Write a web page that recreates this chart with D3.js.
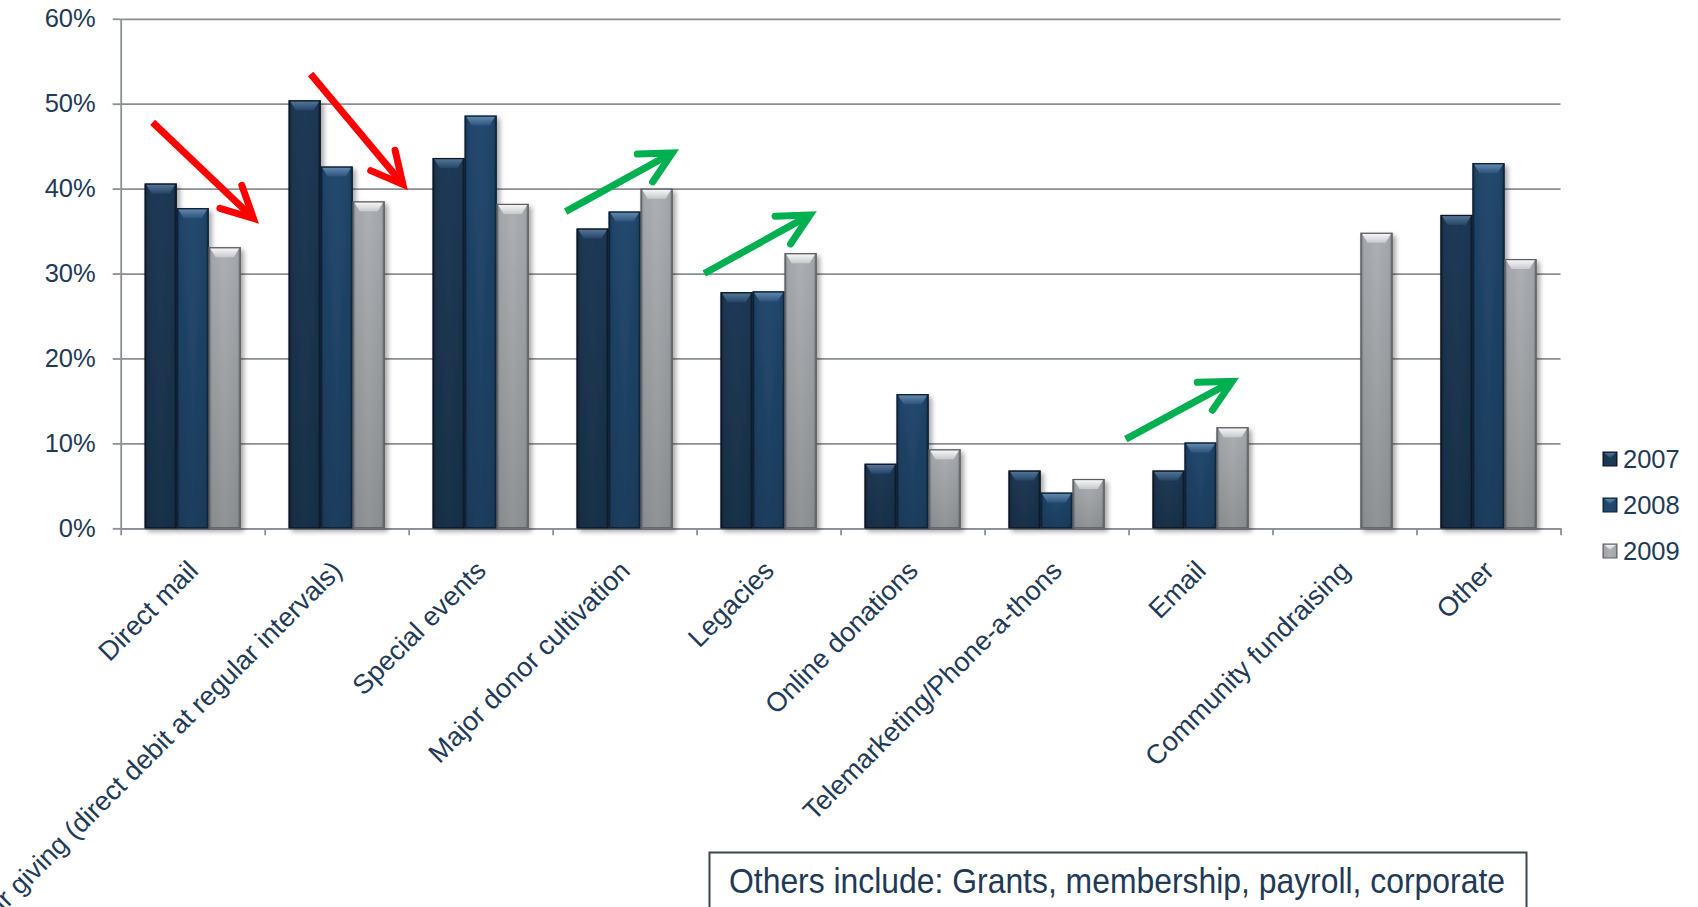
<!DOCTYPE html>
<html>
<head>
<meta charset="utf-8">
<script src="https://cdn.jsdelivr.net/npm/d3@7"></script>
<style>
  html, body { margin: 0; padding: 0; background: #ffffff; overflow: hidden; }
  text { font-family: Arial, "Liberation Sans", sans-serif; fill: #1f3a56; }
</style>
</head>
<body>
<svg id="chart" width="1698" height="907"></svg>
<script>
// ---- data -------------------------------------------------------------
const categories = [
  "Direct mail",
  "Regular giving (direct debit at regular intervals)",
  "Special events",
  "Major donor cultivation",
  "Legacies",
  "Online donations",
  "Telemarketing/Phone-a-thons",
  "Email",
  "Community fundraising",
  "Other"
];
const years = ["2007", "2008", "2009"];
const values2007 = [40.6, 50.4, 43.6, 35.3, 27.8, 7.6, 6.8, 6.8, null, 36.9];
const values2008 = [37.7, 42.6, 48.6, 37.3, 27.9, 15.8, 4.2, 10.1, null, 43.0];
const values2009 = [33.1, 38.5, 38.2, 40.0, 32.4, 9.3, 5.8, 11.9, 34.8, 31.7];
const yTicks = [0, 10, 20, 30, 40, 50, 60];

// trend arrows in data space: [category position, percent]
const trendArrows = [
  { trend: "down", from: [0.222, 47.8], to: [0.922, 36.5] },
  { trend: "down", from: [1.319, 53.5], to: [1.960, 40.5] },
  { trend: "up",   from: [3.090, 37.3], to: [3.831, 44.2] },
  { trend: "up",   from: [4.053, 30.0], to: [4.788, 36.9] },
  { trend: "up",   from: [6.981, 10.5], to: [7.720, 17.3] }
];
const footnote = "Others include: Grants, membership, payroll, corporate";

// ---- layout -----------------------------------------------------------
const svg = d3.select("#chart");
const plotLeft = 120.7, plotRight = 1560.5, plotTop = 18.8, plotBottom = 528.3;
const textColor = "#1f3a56";
const gridColor = "#8b8f93";

const x = d3.scaleBand().domain(categories).range([plotLeft, plotRight]);
const xSeries = d3.scaleBand().domain(years).range([0, x.bandwidth()]).paddingOuter(0.75);
const xPos = d3.scaleLinear().domain([0, categories.length]).range([plotLeft, plotRight]);
const y = d3.scaleLinear().domain([0, 60]).range([plotBottom, plotTop]);

const seriesValues = { "2007": values2007, "2008": values2008, "2009": values2009 };

const palette = {
  "2007": { side: "#0c1c2c", mid: "#1b3652", hi: "#1e3a57", bevelTop: "#5b7b9c", bevelBot: "#25476a", stroke: "#0a1622" },
  "2008": { side: "#112a43", mid: "#1f4468", hi: "#23496f", bevelTop: "#6b8fb3", bevelBot: "#2c5580", stroke: "#0d2033" },
  "2009": { side: "#6c6f73", mid: "#a3a6aa", hi: "#acafb3", bevelTop: "#ffffff", bevelBot: "#c9ccd0", stroke: "#5b5e62" }
};
const arrowColor = { down: "#ff0000", up: "#00b050" };

// ---- defs: gradients and shadow ---------------------------------------
const defs = svg.append("defs");
years.forEach(yr => {
  const p = palette[yr];
  const g = defs.append("linearGradient").attr("id", "body" + yr)
    .attr("x1", "0").attr("x2", "1").attr("y1", "0").attr("y2", "0");
  [[0, p.side], [0.1, p.mid], [0.5, p.hi], [0.9, p.mid], [1, p.side]].forEach(([o, c]) =>
    g.append("stop").attr("offset", o).attr("stop-color", c));
  const b = defs.append("linearGradient").attr("id", "bevel" + yr)
    .attr("x1", "0").attr("x2", "0").attr("y1", "0").attr("y2", "1");
  b.append("stop").attr("offset", 0).attr("stop-color", p.bevelTop);
  b.append("stop").attr("offset", 1).attr("stop-color", p.bevelBot);
});
const shade = defs.append("linearGradient").attr("id", "shade")
  .attr("x1", "0").attr("x2", "0").attr("y1", "0").attr("y2", "1");
shade.append("stop").attr("offset", 0).attr("stop-color", "#000").attr("stop-opacity", 0);
shade.append("stop").attr("offset", 1).attr("stop-color", "#000").attr("stop-opacity", 0.16);

defs.append("filter").attr("id", "shadow")
  .attr("x", "-30%").attr("y", "-10%").attr("width", "170%").attr("height", "130%")
  .append("feDropShadow")
  .attr("dx", 3).attr("dy", 3).attr("stdDeviation", 2.5)
  .attr("flood-color", "#000").attr("flood-opacity", 0.35);

// ---- grid and axes -----------------------------------------------------
svg.append("g")
  .attr("transform", `translate(${plotLeft},0)`)
  .call(d3.axisLeft(y).tickValues(yTicks).tickSize(-(plotRight - plotLeft)).tickFormat(""))
  .call(g => g.select(".domain").remove())
  .call(g => g.selectAll("line").attr("stroke", gridColor).attr("stroke-width", 1.8));

const yAxis = svg.append("g")
  .attr("transform", `translate(${plotLeft},0)`)
  .call(d3.axisLeft(y).tickValues(yTicks).tickSize(8).tickSizeOuter(0).tickPadding(17)
    .tickFormat(d => d + "%"));
yAxis.select(".domain").attr("stroke", gridColor).attr("stroke-width", 1.8);
yAxis.selectAll("line").attr("stroke", gridColor).attr("stroke-width", 1.8);
yAxis.selectAll("text").attr("font-size", 25.5).attr("fill", textColor)
  .style("font-family", "Arial, 'Liberation Sans', sans-serif");

const xAxis = svg.append("g")
  .attr("transform", `translate(0,${plotBottom})`)
  .call(d3.axisBottom(xPos).tickValues(d3.range(categories.length + 1)).tickSize(7)
    .tickSizeOuter(0).tickFormat(""));
xAxis.select(".domain").attr("stroke", gridColor).attr("stroke-width", 1.8);
xAxis.selectAll("line").attr("stroke", gridColor).attr("stroke-width", 1.8);

// ---- bars ------------------------------------------------------------
const barData = [];
categories.forEach((c, i) => years.forEach(yr => {
  const v = seriesValues[yr][i];
  if (v != null) barData.push({ category: c, year: yr, value: v });
}));

const bars = svg.append("g").selectAll("g.bar")
  .data(barData).join("g").attr("class", "bar")
  .attr("filter", "url(#shadow)");

bars.each(function (d) {
  const g = d3.select(this);
  const x0 = x(d.category) + xSeries(d.year);
  const w = xSeries.bandwidth();
  const top = y(d.value);
  const h = y(0) - top;
  g.append("rect").attr("x", x0).attr("y", top).attr("width", w).attr("height", h)
    .attr("fill", `url(#body${d.year})`);
  g.append("rect").attr("x", x0).attr("y", top).attr("width", w).attr("height", h)
    .attr("fill", "url(#shade)");
  const bh = Math.min(10, h);
  g.append("polygon")
    .attr("points", [[x0 + 1.5, top + 1], [x0 + w - 1.5, top + 1], [x0 + w - 7, top + bh], [x0 + 7, top + bh]]
      .map(p => p.join(",")).join(" "))
    .attr("fill", `url(#bevel${d.year})`).attr("opacity", 0.9);
  g.append("rect").attr("x", x0 + 0.5).attr("y", top + 0.5).attr("width", w - 1).attr("height", h - 1)
    .attr("fill", "none").attr("stroke", palette[d.year].stroke).attr("stroke-width", 1.2);
});

// ---- category labels -------------------------------------------------
svg.append("g").selectAll("text")
  .data(categories).join("text")
  .attr("transform", d => `translate(${x(d) + x.bandwidth() / 2 + 7},${plotBottom + 44}) rotate(-45)`)
  .attr("text-anchor", "end")
  .attr("font-size", 27)
  .attr("fill", textColor)
  .text(d => d);

// ---- trend arrows --------------------------------------------------------
const arrowG = svg.append("g");
trendArrows.forEach(a => {
  const sx = xPos(a.from[0]), sy = y(a.from[1]);
  const tx = xPos(a.to[0]), ty = y(a.to[1]);
  const ang = Math.atan2(ty - sy, tx - sx);
  const len = 35, spread = 27 * Math.PI / 180;
  const b1 = [tx - len * Math.cos(ang - spread), ty - len * Math.sin(ang - spread)];
  const b2 = [tx - len * Math.cos(ang + spread), ty - len * Math.sin(ang + spread)];
  const col = arrowColor[a.trend];
  arrowG.append("line").attr("x1", sx).attr("y1", sy).attr("x2", tx - 3 * Math.cos(ang)).attr("y2", ty - 3 * Math.sin(ang))
    .attr("stroke", col).attr("stroke-width", 7);
  arrowG.append("path")
    .attr("d", `M${b1[0]},${b1[1]}L${tx},${ty}L${b2[0]},${b2[1]}`)
    .attr("fill", "none").attr("stroke", col).attr("stroke-width", 7)
    .attr("stroke-linejoin", "miter").attr("stroke-linecap", "round");
});

// ---- legend ------------------------------------------------------------
const legend = svg.append("g").selectAll("g")
  .data(years).join("g")
  .attr("transform", (d, i) => `translate(1603,${459 + i * 46})`);
legend.append("rect").attr("x", 0).attr("y", -7).attr("width", 14).attr("height", 14)
  .attr("fill", d => `url(#body${d})`).attr("stroke", d => palette[d].stroke).attr("stroke-width", 1);
legend.append("polygon").attr("points", "1.5,-6 12.5,-6 7,-1")
  .attr("fill", d => `url(#bevel${d})`).attr("opacity", 0.85);
legend.append("text").attr("x", 20).attr("y", 0).attr("dy", "0.36em")
  .attr("font-size", 25.5).attr("fill", textColor).text(d => d);

// ---- footnote box ------------------------------------------------------
svg.append("rect").attr("x", 709.5).attr("y", 852.5).attr("width", 817).attr("height", 90)
  .attr("fill", "#ffffff").attr("stroke", "#3c4752").attr("stroke-width", 2);
svg.append("text").attr("x", 729).attr("y", 893)
  .attr("font-size", 35).attr("fill", textColor)
  .attr("textLength", 776).attr("lengthAdjust", "spacingAndGlyphs")
  .text(footnote);
</script>
</body>
</html>
